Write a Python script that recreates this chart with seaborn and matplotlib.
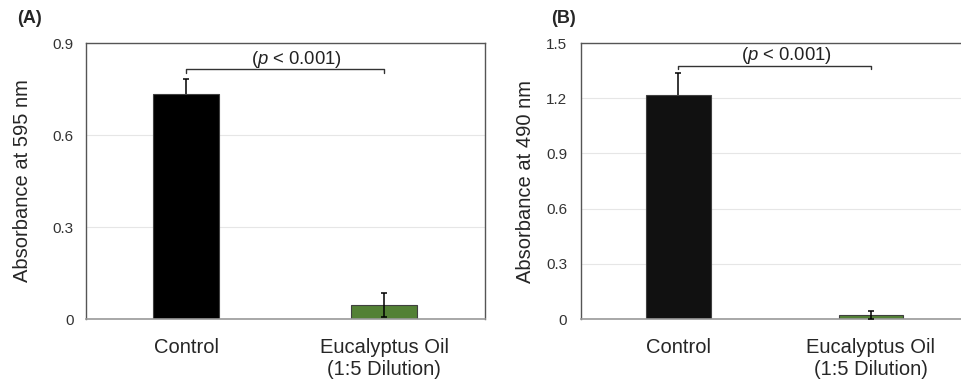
import matplotlib
matplotlib.use("Agg")
import matplotlib.pyplot as plt
import seaborn as sns
import pandas as pd

categories = ["Control", "Eucalyptus Oil\n(1:5 Dilution)"]
bar_colors = ["#000000", "#538135"]

abs595_mean = [0.735, 0.046]
abs595_sd = [0.048, 0.040]
abs490_mean = [1.216, 0.022]
abs490_sd = [0.120, 0.020]

yticks_a = [0, 0.3, 0.6, 0.9]
ytick_labels_a = ["0", "0.3", "0.6", "0.9"]
yticks_b = [0, 0.3, 0.6, 0.9, 1.2, 1.5]
ytick_labels_b = ["0", "0.3", "0.6", "0.9", "1.2", "1.5"]

sns.set_style("white")
plt.rcParams["font.family"] = ["Liberation Sans", "DejaVu Sans"]
plt.rcParams["mathtext.fontset"] = "custom"
plt.rcParams["mathtext.rm"] = "Liberation Sans"
plt.rcParams["mathtext.it"] = "Liberation Sans:italic"


def draw_panel(ax, means, sds, yticks, ylabels, ylabel, bracket_y, text_y,
               colors, tick_pad, label_pad):
    df = pd.DataFrame({"group": categories, "value": means})
    sns.barplot(data=df, x="group", y="value", hue="group", palette=colors,
                legend=False, width=0.335, edgecolor="#404040", linewidth=0.8,
                saturation=1, ax=ax)
    # the dark control bar hides the lower half of its error bar
    for i, (m, s) in enumerate(zip(means, sds)):
        ax.errorbar(i, m, yerr=s, fmt="none", ecolor="#000000",
                    elinewidth=1.1, capsize=2.5, capthick=1.1,
                    zorder=0.9 if i == 0 else 3)
    ax.set_ylim(yticks[0], yticks[-1])
    ax.set_xlim(-0.505, 1.51)
    ax.set_yticks(yticks)
    ax.set_yticklabels(ylabels, fontsize=11, color="#333333")
    ax.tick_params(axis="y", length=0, pad=tick_pad)
    ax.tick_params(axis="x", length=0, pad=14, labelsize=14.5)
    ax.set_xlabel("")
    ax.set_ylabel(ylabel, fontsize=14.5, labelpad=label_pad)
    ax.yaxis.grid(True, color="#e6e6e6", linewidth=0.8)
    ax.set_axisbelow(True)
    for side in ["top", "right", "left"]:
        ax.spines[side].set_color("#555555")
        ax.spines[side].set_linewidth(1.0)
    ax.spines["bottom"].set_color("#999999")
    ax.spines["bottom"].set_linewidth(1.2)
    # significance bracket
    tip = (yticks[-1] - yticks[0]) * 0.012
    ax.plot([0, 0, 1, 1], [bracket_y - tip, bracket_y, bracket_y, bracket_y - tip],
            color="#333333", linewidth=1.0, clip_on=False)
    ax.text(0.56, text_y, r"($p$ < 0.001)", ha="center", va="center",
            fontsize=13.3, color="#222222")


fig = plt.figure(figsize=(9.62, 3.83), dpi=100)
ax_a = fig.add_axes([0.0894, 0.1671, 0.4148, 0.7206])
ax_b = fig.add_axes([0.6040, 0.1671, 0.4034, 0.7206])

draw_panel(ax_a, abs595_mean, abs595_sd, yticks_a, ytick_labels_a,
           "Absorbance at 595 nm", 0.814, 0.846, bar_colors, 9, 15)
draw_panel(ax_b, abs490_mean, abs490_sd, yticks_b, ytick_labels_b,
           "Absorbance at 490 nm", 1.377, 1.43, ["#111111", "#538135"], 10, 8)

fig.text(0.0177, 0.953, "(A)", fontsize=13, fontweight="bold", va="center")
fig.text(0.5725, 0.953, "(B)", fontsize=13, fontweight="bold", va="center")

fig.savefig("out.png", dpi=100)
